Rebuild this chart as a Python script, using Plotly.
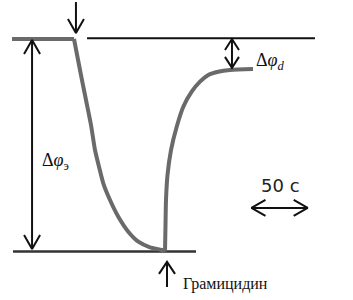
import plotly.graph_objects as go

# ---- data (time in s, potential in % of the total jump, baseline = 0) ----
base_t = [0.0, 55.4]
base_v = [0.0, 0.0]
decay_t = [55.36, 60.71, 66.07, 70.54, 74.11, 77.68, 81.52, 87.50, 94.91, 103.84, 112.77, 123.21, 133.66, 136.61]
decay_v = [0.0, -14.59, -28.71, -40.47, -52.24, -60.09, -67.91, -75.76, -83.62, -90.68, -95.39, -98.02, -99.29, -100.0]
rise_t = [136.61, 137.05, 137.50, 138.84, 141.96, 147.05, 152.95, 160.45, 167.86, 175.27, 184.20, 194.64, 215.18]
rise_v = [-100.0, -87.53, -75.76, -64.0, -52.24, -41.27, -31.86, -24.80, -20.09, -16.94, -15.39, -14.59, -14.12]

top_line_t = [67.0, 270.5]      # initial level (reference)
bottom_line_t = [0.9, 164.3]    # level reached after the jump
top_level = 0.4
bottom_level = -100.0

stim_t = 57.1                   # first arrow (addition)
gram_t = 138.4                  # gramicidin addition
dphi_e_t = 17.9                 # total jump marker
dphi_d_t = 196.4                # residual marker
dphi_d_v = -13.6
scale_t = [213.8, 264.0]        # 50 s
scale_v = -79.5

KX, KY = 1.12, 2.125            # px per s, px per unit
X_RANGE = [-12 / KX, 341 / KX]
Y_RANGE = [-261 / KY, 39 / KY]

CURVE = "#6a6a6a"
INK = "#111111"

fig = go.Figure()


def line(xs, ys, color=INK, width=2, shape="linear"):
    fig.add_trace(go.Scatter(x=xs, y=ys, mode="lines",
                             line=dict(color=color, width=width, shape=shape, smoothing=0.7),
                             hoverinfo="skip", showlegend=False))


def head(tx, ty, direction, L=13, W=8, width=2):
    # chevron arms, sizes in px, converted into data units
    if direction == "down":
        xs = [tx - W / KX, tx, tx + W / KX]; ys = [ty + L / KY, ty, ty + L / KY]
    elif direction == "up":
        xs = [tx - W / KX, tx, tx + W / KX]; ys = [ty - L / KY, ty, ty - L / KY]
    elif direction == "left":
        xs = [tx + L / KX, tx, tx + L / KX]; ys = [ty + W / KY, ty, ty - W / KY]
    else:
        xs = [tx - L / KX, tx, tx - L / KX]; ys = [ty + W / KY, ty, ty - W / KY]
    line(xs, ys, INK, width)


# reference levels
line(top_line_t, [top_level, top_level], INK, 2)
line(bottom_line_t, [bottom_level, bottom_level], "#333333", 2.5)

# curve
line(base_t, base_v, CURVE, 4)
line(decay_t, decay_v, CURVE, 4, "spline")
line(rise_t, rise_v, CURVE, 4, "spline")

# stimulus arrow (down)
line([stim_t, stim_t], [17.4, 2.8]); head(stim_t, 2.8, "down", L=14)
# gramicidin arrow (up)
line([gram_t, gram_t], [-116.7, -104.9]); head(gram_t, -104.9, "up", L=12)
# total jump double arrow
line([dphi_e_t, dphi_e_t], [-0.5, -98.8])
head(dphi_e_t, -0.5, "up", L=14); head(dphi_e_t, -98.8, "down", L=14)
# residual double arrow
line([dphi_d_t, dphi_d_t], [0.0, dphi_d_v])
head(dphi_d_t, 0.0, "up", L=11, W=7); head(dphi_d_t, dphi_d_v, "down", L=11, W=7)
# 50 s scale bar
line(scale_t, [scale_v, scale_v])
head(scale_t[0], scale_v, "left", L=14); head(scale_t[1], scale_v, "right", L=14)

serif = "Liberation Serif"
fig.add_annotation(x=216, y=-10.5, xref="x", yref="y", xanchor="left", yanchor="middle",
                   text="Δ<i>φ</i><sub><i>d</i></sub>", showarrow=False,
                   font=dict(family=serif, size=18, color=INK))
fig.add_annotation(x=25, y=-57.5, xref="x", yref="y", xanchor="left", yanchor="middle",
                   text="Δ<i>φ</i><sub>э</sub>", showarrow=False,
                   font=dict(family=serif, size=18, color=INK))
fig.add_annotation(x=239.3, y=-69.0, xref="x", yref="y", xanchor="center", yanchor="middle",
                   text="50 с", showarrow=False,
                   font=dict(family="DejaVu Sans", size=18, color="#222222"))
fig.add_annotation(x=150.9, y=-115.5, xref="x", yref="y", xanchor="left", yanchor="middle",
                   text="Грамицидин", showarrow=False,
                   font=dict(family=serif, size=16, color=INK))

fig.update_layout(width=353, height=300, margin=dict(l=0, r=0, t=0, b=0),
                  paper_bgcolor="white", plot_bgcolor="white",
                  xaxis=dict(range=X_RANGE, visible=False, fixedrange=True),
                  yaxis=dict(range=Y_RANGE, visible=False, fixedrange=True))

fig.write_html("out.html", config={"displayModeBar": False},
               post_script="document.body.style.margin='0';document.body.style.overflow='hidden';")
